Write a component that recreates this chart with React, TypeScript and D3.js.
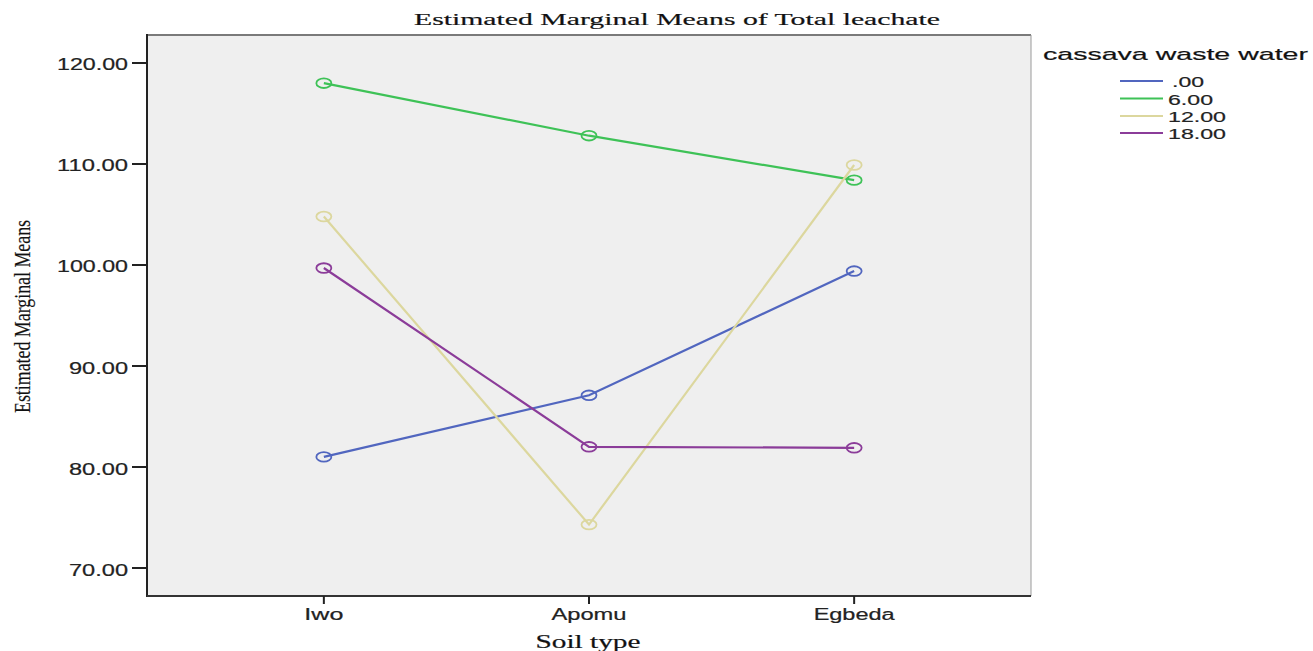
import React from "react";
import * as d3 from "d3";

// Soil types on the horizontal axis
const soilTypes = ["Iwo", "Apomu", "Egbeda"];

// Cassava waste water levels (legend) and their colours
const wasteLevels = [".00", "6.00", "12.00", "18.00"];
const levelColors = ["#5166bf", "#3ec257", "#dcd79e", "#8b3c99"];

// Estimated marginal means of total leachate, one array per level
const meansLevel0 = [81.0, 87.1, 99.4];
const meansLevel6 = [118.0, 112.8, 108.4];
const meansLevel12 = [104.8, 74.3, 109.9];
const meansLevel18 = [99.7, 82.0, 81.9];
const seriesValues = [meansLevel0, meansLevel6, meansLevel12, meansLevel18];

// Y axis tick values and their labels
const yTicks = [70, 80, 90, 100, 110, 120];
const yTickLabels = ["70.00", "80.00", "90.00", "100.00", "110.00", "120.00"];

const W = 1313;
const H = 651;
const plot = { left: 147, right: 1031, top: 35, bottom: 596 };

export default function App() {
  const x = d3
    .scalePoint<string>()
    .domain(soilTypes)
    .range([plot.left, plot.right])
    .padding(0.667);
  const y = d3
    .scaleLinear()
    .domain([67.23, 122.77])
    .range([plot.bottom, plot.top]);

  const line = d3
    .line<[string, number]>()
    .x((d) => x(d[0]) as number)
    .y((d) => y(d[1]));

  const xLabelWidths: Record<string, number> = { Iwo: 39, Apomu: 75, Egbeda: 81 };
  const legendLabelWidths = [32, 45, 58, 58];
  const legendRowY = [81, 98.5, 116, 133];
  const textStroke = { stroke: "#222", strokeWidth: 0.2 };

  return (
    <svg
      width={W}
      height={H}
      style={{ position: "absolute", left: 0, top: 0, background: "#fff" }}
    >
      {/* plot background */}
      <rect
        x={plot.left}
        y={plot.top}
        width={plot.right - plot.left}
        height={plot.bottom - plot.top}
        fill="#efefef"
      />
      {/* frame: top and right in grey */}
      <line x1={plot.left} x2={plot.right} y1={plot.top} y2={plot.top} stroke="#7a7a7a" strokeWidth={2} />
      <line x1={plot.right} x2={plot.right} y1={plot.top} y2={plot.bottom} stroke="#9a9a9a" strokeWidth={1} />
      {/* axes */}
      <line x1={plot.left} x2={plot.left} y1={plot.top - 1} y2={plot.bottom + 1} stroke="#222" strokeWidth={2} />
      <line x1={plot.left} x2={plot.right} y1={plot.bottom} y2={plot.bottom} stroke="#333" strokeWidth={2} />

      {/* title */}
      <text
        x={414}
        y={25}
        fontFamily="Liberation Serif, serif"
        fontSize={17}
        textLength={526}
        lengthAdjust="spacingAndGlyphs"
        fill="#111"
        {...textStroke}
      >
        Estimated Marginal Means of Total leachate
      </text>

      {/* y ticks */}
      {yTicks.map((t, i) => (
        <g key={t}>
          <line x1={132} x2={plot.left} y1={y(t)} y2={y(t)} stroke="#222" strokeWidth={2} />
          <text
            x={128}
            y={y(t) + 7.5}
            textAnchor="end"
            fontFamily="Liberation Sans, Arial, sans-serif"
            fontSize={16}
            textLength={yTickLabels[i].length > 5 ? 71 : 59}
            lengthAdjust="spacingAndGlyphs"
            fill="#222"
            {...textStroke}
          >
            {yTickLabels[i]}
          </text>
        </g>
      ))}

      {/* y axis title */}
      <text
        transform="translate(30,316.5) rotate(-90)"
        textAnchor="middle"
        fontFamily="Liberation Serif, serif"
        fontSize={23}
        textLength={193}
        lengthAdjust="spacingAndGlyphs"
        fill="#111"
        {...textStroke}
      >
        Estimated Marginal Means
      </text>

      {/* x ticks */}
      {soilTypes.map((s) => (
        <g key={s}>
          <line
            x1={x(s) as number}
            x2={x(s) as number}
            y1={plot.bottom}
            y2={plot.bottom + 8}
            stroke="#222"
            strokeWidth={2}
          />
          <text
            x={x(s) as number}
            y={620}
            textAnchor="middle"
            fontFamily="Liberation Sans, Arial, sans-serif"
            fontSize={16}
            textLength={xLabelWidths[s]}
            lengthAdjust="spacingAndGlyphs"
            fill="#222"
            {...textStroke}
          >
            {s}
          </text>
        </g>
      ))}

      {/* x axis title */}
      <text
        x={588}
        y={648}
        textAnchor="middle"
        fontFamily="Liberation Serif, serif"
        fontSize={18}
        textLength={105}
        lengthAdjust="spacingAndGlyphs"
        fill="#111"
        {...textStroke}
      >
        Soil type
      </text>

      {/* series lines and markers */}
      {seriesValues.map((vals, si) => {
        const pts: [string, number][] = soilTypes.map((s, i) => [s, vals[i]]);
        return (
          <g key={wasteLevels[si]}>
            <path d={line(pts) || ""} fill="none" stroke={levelColors[si]} strokeWidth={2.2} />
            {pts.map((p) => (
              <ellipse
                key={p[0]}
                cx={x(p[0]) as number}
                cy={y(p[1])}
                rx={7.5}
                ry={4.8}
                fill="none"
                stroke={levelColors[si]}
                strokeWidth={1.8}
              />
            ))}
          </g>
        );
      })}

      {/* legend */}
      <text
        x={1043}
        y={60}
        fontFamily="Liberation Sans, Arial, sans-serif"
        fontSize={17}
        textLength={265}
        lengthAdjust="spacingAndGlyphs"
        fill="#111"
        {...textStroke}
      >
        cassava waste water
      </text>
      {wasteLevels.map((lvl, i) => (
        <g key={lvl}>
          <line
            x1={1120}
            x2={1163}
            y1={legendRowY[i]}
            y2={legendRowY[i]}
            stroke={levelColors[i]}
            strokeWidth={2}
          />
          <text
            x={lvl === ".00" ? 1172 : 1168}
            y={legendRowY[i] + 6}
            fontFamily="Liberation Sans, Arial, sans-serif"
            fontSize={15}
            textLength={legendLabelWidths[i]}
            lengthAdjust="spacingAndGlyphs"
            fill="#222"
            {...textStroke}
          >
            {lvl}
          </text>
        </g>
      ))}
    </svg>
  );
}
